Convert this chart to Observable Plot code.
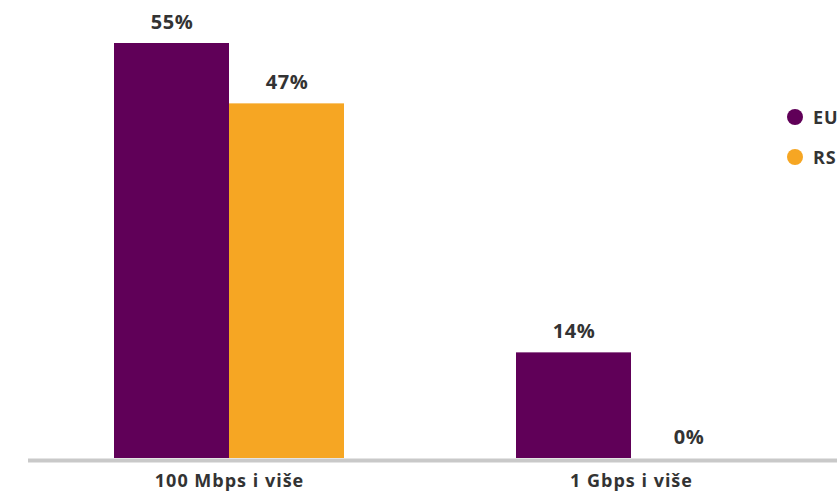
<!DOCTYPE html>
<html>
<head>
<meta charset="utf-8">
<script src="https://cdn.jsdelivr.net/npm/d3@7"></script>
<script src="https://cdn.jsdelivr.net/npm/@observablehq/plot@0.6"></script>
<style>
  html, body { margin: 0; padding: 0; background: #fff; overflow: hidden; width: 837px; height: 494px; }
  #wrap { position: relative; width: 837px; height: 494px; overflow: hidden; }
  #chart svg text { letter-spacing: 0.5px; }
  #chart svg g.cat text { letter-spacing: 1px; }
  #legend { position: absolute; left: 787px; top: 97px; font-family: "Open Sans", sans-serif; font-weight: 700; font-size: 18px; color: #333; white-space: nowrap; letter-spacing: 0.8px; }
  .item { display: flex; align-items: center; height: 40px; }
  .sw { width: 16px; height: 16px; border-radius: 50%; margin-right: 10px; flex: none; }
</style>
</head>
<body>
<div id="wrap"><div id="chart"></div><div id="legend"></div></div>
<script>
const groups = ["100 Mbps i više", "1 Gbps i više"];
const series = ["EU", "RS"];
const euValues = [55, 14];
const rsValues = [47, 0];
const colors = ["#600058", "#f6a623"];

const eu = groups.map((g, i) => ({group: g, series: "EU", value: euValues[i]}));
const rs = groups.map((g, i) => ({group: g, series: "RS", value: rsValues[i]}));

const textStyle = {fontWeight: 700, fill: "#333", fontFamily: "'Open Sans', sans-serif"};

const chart = Plot.plot({
  width: 837,
  height: 494,
  marginLeft: 28,
  marginRight: 0,
  marginTop: 43,
  marginBottom: 36,
  style: {fontFamily: "'Open Sans', sans-serif", background: "#fff"},
  x: {domain: groups, range: [28, 832], paddingInner: 0.428, paddingOuter: 0.214, axis: null},
  y: {domain: [0, 55], axis: null},
  marks: [
    Plot.ruleY([0], {stroke: "#c9c9c9", strokeWidth: 4, dy: 2}),
    Plot.barY(eu, {x: "group", y: "value", fill: colors[0], insetRight: 115, insetLeft: 0}),
    Plot.barY(rs, {x: "group", y: "value", fill: colors[1], insetLeft: 115, insetRight: 0}),
    Plot.text(eu, {x: "group", y: "value", text: d => d.value + "%", dx: -57.5, dy: -21, fontSize: 20, ...textStyle}),
    Plot.text(rs, {x: "group", y: "value", text: d => d.value + "%", dx: 57.5, dy: -21, fontSize: 20, ...textStyle}),
    Plot.text(groups, {x: d => d, y: () => 0, text: d => d, dy: 23, fontSize: 18, className: "cat", ...textStyle})
  ]
});
document.getElementById("chart").appendChild(chart);

const legend = document.getElementById("legend");
series.forEach((s, i) => {
  const item = document.createElement("div");
  item.className = "item";
  const sw = document.createElement("span");
  sw.className = "sw";
  sw.style.background = colors[i];
  const lab = document.createElement("span");
  lab.textContent = s;
  item.appendChild(sw);
  item.appendChild(lab);
  legend.appendChild(item);
});
</script>
</body>
</html>
